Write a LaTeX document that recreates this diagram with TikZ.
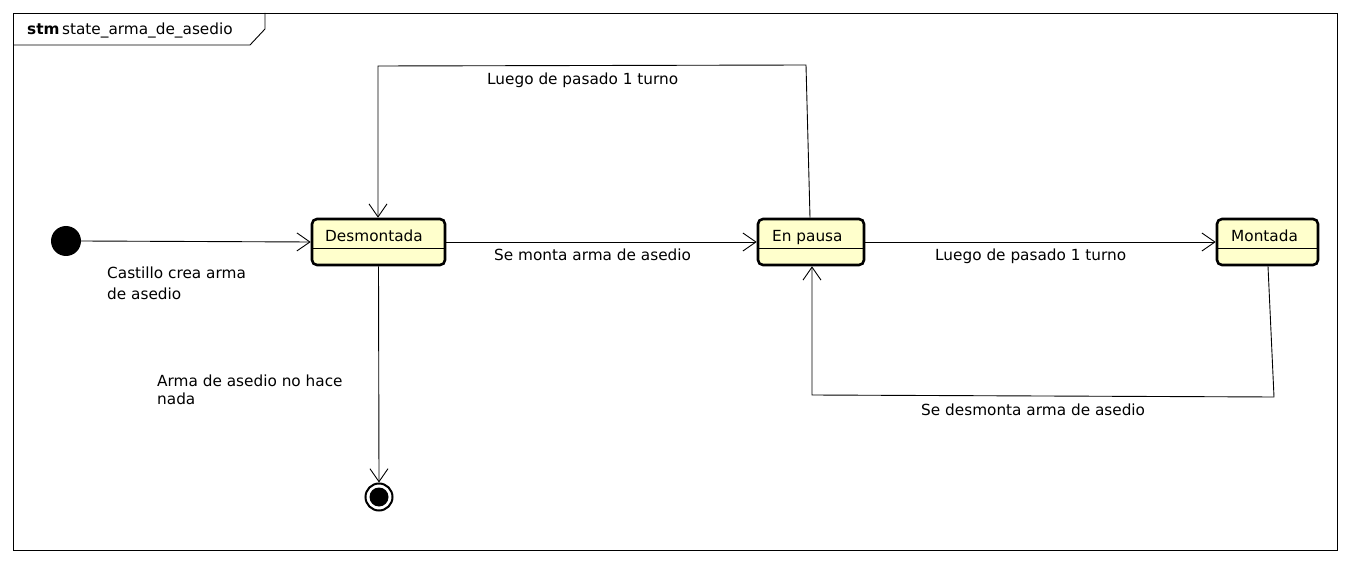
\documentclass[tikz,border=0pt]{standalone}
\usepackage{fontspec}
\setmainfont{DejaVu Sans}
\usetikzlibrary{arrows.meta,calc}
\definecolor{stfill}{RGB}{255,255,204}
\tikzset{
  stbox/.style={draw, line width=2.6pt, rounded corners=5pt, fill=stfill, inner sep=0pt},
  lbl/.style={anchor=base west, inner sep=0pt, font=\fontsize{15.3}{19}\selectfont},
  edge/.style={line width=0.9pt, -{Straight Barb[length=13pt,width=18pt,line width=0.9pt]}},
  plain/.style={line width=0.9pt}
}
\begin{document}
\begin{tikzpicture}[x=1pt,y=-1pt]
\useasboundingbox (0,0) rectangle (1350,564);
\fill[white] (0,0) rectangle (1350,564);
% frame
\draw[plain] (13,13) rectangle (1337,550);
\draw[plain] (13,45) -- (250,45) -- (265,29) -- (265,13);
\node[lbl] (title) at (27,35) {\textbf{stm}\,state\_arma\_de\_asedio};
% states
\node[stbox, minimum width=133pt, minimum height=46pt] (des) at (378.5,242) {};
\node[stbox, minimum width=106pt, minimum height=46pt] (pau) at (811,242) {};
\node[stbox, minimum width=101pt, minimum height=46pt] (mon) at (1267.5,242) {};
\draw[plain] (des.west |- 0,248) -- (des.east |- 0,248);
\draw[plain] (pau.west |- 0,248) -- (pau.east |- 0,248);
\draw[plain] (mon.west |- 0,248) -- (mon.east |- 0,248);
\node[lbl] (desT) at (325,242) {Desmontada};
\node[lbl] (pauT) at (772,242) {En pausa};
\node[lbl] (monT) at (1231,242) {Montada};
% pseudo states
\fill (66,241) circle (15) node (ini) {};
\coordinate (iniE) at (81,241);
\node[circle, draw, line width=2pt, minimum size=27pt, inner sep=0pt] (fin) at (379,497) {};
\fill (379,497) circle (9.5);
% transitions
\draw[edge] (iniE) -- (des.west);
\draw[edge] (des.east) -- (pau.west);
\draw[edge] (pau.east) -- (mon.west);
\draw[edge] (des.south) -- (fin.north);
\coordinate (a1) at (810,219);
\coordinate (a2) at (806,65);
\coordinate (a3) at (378,66);
\draw[edge] (pau.north -| a1) -- (a2) -- (a3) -- (des.north -| a3);
\coordinate (b1) at (1268,265);
\coordinate (b2) at (1274,397);
\coordinate (b3) at (812,395);
\draw[edge] (mon.south -| b1) -- (b2) -- (b3) -- (pau.south -| b3);
% labels
\node[lbl] (l1a) at (107,279) {Castillo crea arma};
\node[lbl] (l1b) at (107,299) {de asedio};
\node[lbl] (l2) at (494,261) {Se monta arma de asedio};
\node[lbl] (l3) at (935,261) {Luego de pasado 1 turno};
\node[lbl] (l4) at (487,85) {Luego de pasado 1 turno};
\node[lbl] (l5) at (921,415) {Se desmonta arma de asedio};
\node[lbl] (l6a) at (157,386) {Arma de asedio no hace};
\node[lbl] (l6b) at (157,404) {nada};
\end{tikzpicture}
\end{document}
